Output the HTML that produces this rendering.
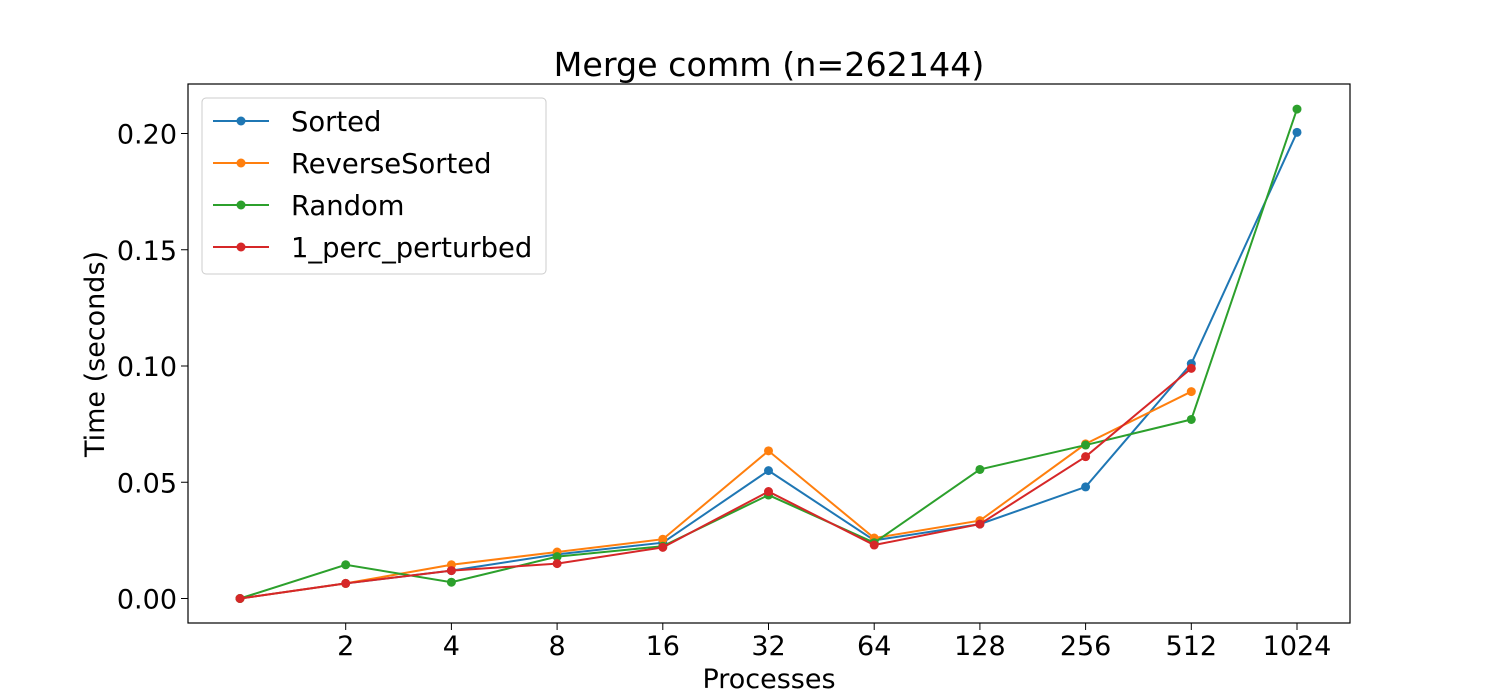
<!DOCTYPE html>
<html><head><meta charset="utf-8"><style>
body{margin:0;background:#fff;}
svg{display:block;font-family:"DejaVu Sans","Liberation Sans",sans-serif;}
</style></head><body>
<svg id="chart" width="1500" height="700">
<rect x="0" y="0" width="1500" height="700" fill="#fff"/>
<text x="769" y="76" font-size="33.3" text-anchor="middle">Merge comm (n=262144)</text>
<g id="axes"></g>
<g id="series"></g>
<rect x="188" y="84" width="1162" height="539" fill="none" stroke="#000" stroke-width="1.2"/>
<text x="769" y="688" font-size="27" text-anchor="middle">Processes</text>
<text transform="translate(104,354) rotate(-90)" font-size="27" text-anchor="middle">Time (seconds)</text>
<g id="legend"></g>
</svg>
<script>
const categories=["1","2","4","8","16","32","64","128","256","512","1024"];
const xTickLabels=["","2","4","8","16","32","64","128","256","512","1024"];
const yTicks=[0,0.05,0.10,0.15,0.20];
const yTickLabels=["0.00","0.05","0.10","0.15","0.20"];
const seriesNames=["Sorted","ReverseSorted","Random","1_perc_perturbed"];
const seriesColors=["#1f77b4","#ff7f0e","#2ca02c","#d62728"];
const sortedVals=[0,0.0065,0.012,0.019,0.024,0.055,0.025,0.032,0.048,0.101,0.2005];
const reverseVals=[0,0.0065,0.0145,0.020,0.0255,0.0635,0.026,0.0335,0.0665,0.089,null];
const randomVals=[0,0.0145,0.007,0.018,0.0225,0.0445,0.024,0.0555,0.066,0.077,0.2105];
const perturbedVals=[0,0.0065,0.012,0.015,0.022,0.046,0.023,0.032,0.061,0.099,null];
const allSeries=[sortedVals,reverseVals,randomVals,perturbedVals];
const NS="http://www.w3.org/2000/svg";
function xScale(i){return 240+i*105.7;}
function yScale(v){return 598.5-v*2325;}
function mk(tag,attrs,parent){const e=document.createElementNS(NS,tag);for(const k in attrs)e.setAttribute(k,attrs[k]);parent.appendChild(e);return e;}
const axes=document.getElementById('axes');
categories.forEach((c,i)=>{
  if(xTickLabels[i]==="")return;
  const x=xScale(i);
  const t=mk('line',{x1:x,x2:x,y1:623,y2:630,stroke:'#000','stroke-width':1},axes);
  
  
  const l=mk('text',{x:x,y:655,'font-size':27,'text-anchor':'middle'},axes);
  l.textContent=xTickLabels[i];
  
  
});
yTicks.forEach((v,i)=>{
  const y=yScale(v);
  const t=mk('line',{x1:181,x2:188,y1:y,y2:y,stroke:'#000','stroke-width':1},axes);
  
  
  const l=mk('text',{x:177,y:y+10,'font-size':27,'text-anchor':'end'},axes);
  l.textContent=yTickLabels[i];
  
  
});
const sg=document.getElementById('series');
allSeries.forEach((vals,s)=>{
  const g=mk('g',{},sg);
  
  
  let pts=[];
  vals.forEach((v,i)=>{if(v!==null)pts.push(xScale(i)+','+yScale(v));});
  const pl=mk('polyline',{points:pts.join(' '),fill:'none',stroke:seriesColors[s],'stroke-width':2},g);
  
  
  vals.forEach((v,i)=>{if(v===null)return;
    const c=mk('circle',{cx:xScale(i),cy:yScale(v),r:4.5,fill:seriesColors[s]},g);
    
    
  });
});
const lg=document.getElementById('legend');
const box=mk('rect',{x:202,y:98,width:344,height:176,rx:4,fill:'#fff','fill-opacity':0.8,stroke:'#ccc'},lg);


seriesNames.forEach((n,i)=>{
  const y=121+i*42;
  const g=mk('g',{},lg);
  
  
  mk('line',{x1:213,x2:269,y1:y,y2:y,stroke:seriesColors[i],'stroke-width':2},g);
  mk('circle',{cx:241,cy:y,r:4.5,fill:seriesColors[i]},g);
  const t=mk('text',{x:291,y:y+10,'font-size':27.4},g);
  t.textContent=n;
});
</script>
</body></html>
